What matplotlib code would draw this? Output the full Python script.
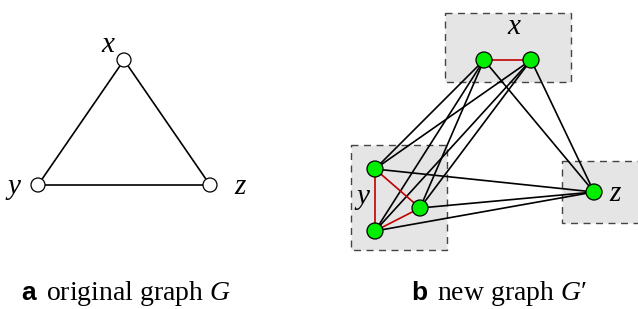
import matplotlib.pyplot as plt
from matplotlib.patches import Rectangle, Circle

plt.rcParams["mathtext.fontset"] = "custom"
plt.rcParams["mathtext.it"] = "Liberation Serif:italic"
plt.rcParams["mathtext.rm"] = "Liberation Serif"

# graph a: original graph G (pixel coords of the reference)
g_nodes = {"x": (124, 60), "y": (38, 185), "z": (210, 185)}
g_edges = [("x", "y"), ("x", "z"), ("y", "z")]
g_labels = {"x": (108, 45), "y": (14, 187), "z": (240, 187)}

# graph b: new graph G'
h_nodes = {
    "x1": (484, 60), "x2": (531, 60),
    "y1": (375, 169), "y2": (420, 208), "y3": (375, 231),
    "z1": (594, 192),
}
h_red_edges = [("x1", "x2"), ("y1", "y3"), ("y1", "y2"), ("y2", "y3")]
h_black_edges = [
    ("x1", "y1"), ("x1", "y2"), ("x1", "y3"),
    ("x2", "y1"), ("x2", "y2"), ("x2", "y3"),
    ("x1", "z1"), ("x2", "z1"),
    ("y1", "z1"), ("y2", "z1"), ("y3", "z1"),
]
# groups: (x0, y0, x1, y1)
h_boxes = {"x": (445, 13, 571, 82), "y": (351, 145, 447, 250), "z": (562, 161, 645, 223)}
h_labels = {"x": (514, 27), "y": (363, 197), "z": (615, 194)}

captions = [("a", "original graph $G$", 21, 46), ("b", "new graph $G$\u2032", 411, 437)]

fig = plt.figure(figsize=(6.38, 3.09), dpi=100)
ax = fig.add_axes([0, 0, 1, 1])
ax.set_xlim(0, 638)
ax.set_ylim(309, 0)
ax.axis("off")

serif = ["Liberation Serif", "DejaVu Serif"]
sans = ["Liberation Sans", "DejaVu Sans"]

# --- graph a
for a, b in g_edges:
    (xa, ya), (xb, yb) = g_nodes[a], g_nodes[b]
    ax.plot([xa, xb], [ya, yb], color="black", lw=1.2, zorder=1)
for k, (x, y) in g_nodes.items():
    ax.add_patch(Circle((x, y), 7, facecolor="white", edgecolor="black", lw=0.9, zorder=3))
for k, (x, y) in g_labels.items():
    ax.text(x, y, k, family=serif, style="italic", fontsize=21, ha="center", va="center")

# --- graph b
for k, (x0, y0, x1, y1) in h_boxes.items():
    ax.add_patch(Rectangle((x0, y0), x1 - x0, y1 - y0, facecolor="#e5e5e5",
                           edgecolor="#444444", lw=1.0, linestyle=(0, (5, 4)), zorder=0))
for a, b in h_black_edges:
    (xa, ya), (xb, yb) = h_nodes[a], h_nodes[b]
    ax.plot([xa, xb], [ya, yb], color="black", lw=1.2, zorder=1)
for a, b in h_red_edges:
    (xa, ya), (xb, yb) = h_nodes[a], h_nodes[b]
    ax.plot([xa, xb], [ya, yb], color="#c00000", lw=1.2, zorder=2)
for k, (x, y) in h_nodes.items():
    ax.add_patch(Circle((x, y), 8, facecolor="#00ee00", edgecolor="black", lw=0.9, zorder=3))
for k, (x, y) in h_labels.items():
    ax.text(x, y, k, family=serif, style="italic", fontsize=21, ha="center", va="center")

# --- captions
for tag, txt, xt, xc in captions:
    ax.text(xt, 300, tag, family=sans, weight="bold", fontsize=19, ha="left", va="baseline")
    ax.text(xc, 300, txt, family=serif, fontsize=20, ha="left", va="baseline")

fig.savefig("out.png", dpi=100)
